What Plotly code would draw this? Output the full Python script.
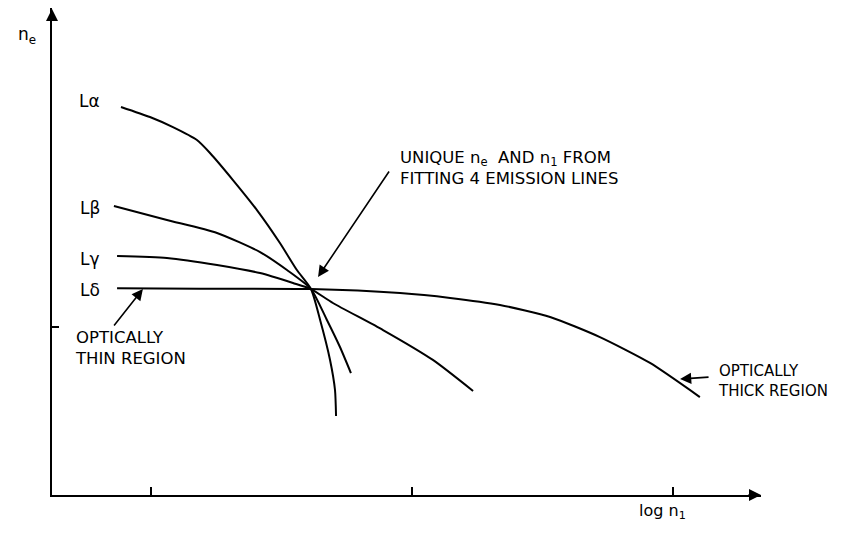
import plotly.graph_objects as go

# schematic: n_e against log n1 (arbitrary units, x ticks at 1, 2, 3 and y tick at 1)
la_x = [0.885, 0.996, 1.084, 1.176, 1.226, 1.314, 1.406, 1.494, 1.559, 1.613, 1.648, 1.686, 1.705, 1.709]
la_y = [2.310, 2.250, 2.190, 2.113, 2.036, 1.875, 1.696, 1.500, 1.339, 1.226, 1.042, 0.804, 0.625, 0.470]

lb_x = [0.858, 1.061, 1.253, 1.418, 1.521, 1.613, 1.674, 1.724, 1.766]
lb_y = [1.720, 1.637, 1.560, 1.446, 1.339, 1.226, 1.042, 0.881, 0.726]

lg_x = [0.870, 1.061, 1.253, 1.418, 1.544, 1.613, 1.697, 1.889, 2.080, 2.234]
lg_y = [1.423, 1.411, 1.369, 1.321, 1.262, 1.226, 1.143, 0.982, 0.804, 0.619]

ld_x = [0.870, 1.188, 1.613, 1.954, 2.146, 2.337, 2.529, 2.720, 2.912, 3.103]
ld_y = [1.230, 1.228, 1.226, 1.202, 1.173, 1.131, 1.060, 0.940, 0.786, 0.583]

line_names = ["Lα", "Lβ", "Lγ", "Lδ"]
label_x = [0.766, 0.766, 0.766, 0.766]
label_y = [2.345, 1.708, 1.405, 1.220]

x_ticks = [1, 2, 3]
y_ticks = [1]
x_range = [0.6207, 3.3372]
y_range = [0, 2.899]

FONT = "DejaVu Sans"

fig = go.Figure()
for xs, ys, nm in [(la_x, la_y, "Lα"), (lb_x, lb_y, "Lβ"),
                   (lg_x, lg_y, "Lγ"), (ld_x, ld_y, "Lδ")]:
    fig.add_trace(go.Scatter(x=xs, y=ys, mode="lines", name=nm,
                             line=dict(color="black", width=2, shape="spline", smoothing=0.6),
                             hoverinfo="skip"))

# curve labels
for nm, lx, ly in zip(line_names, label_x, label_y):
    fig.add_annotation(x=lx, y=ly, text=nm, showarrow=False,
                       font=dict(family=FONT, size=17, color="black"))

# region notes
notes = [
    (0.701, 0.875, "OPTICALLY<br>THIN REGION", 16.5),
    (1.946, 1.949, "UNIQUE n<sub>e</sub>  AND n<sub>1</sub> FROM<br>FITTING 4 EMISSION LINES", 16.5),
    (3.165, 0.676, "OPTICALLY<br>THICK REGION", 15),
]
for nx, ny, txt, fs in notes:
    fig.add_annotation(x=nx, y=ny, text=txt, showarrow=False, xanchor="left",
                       yanchor="middle", align="left",
                       font=dict(family=FONT, size=fs, color="black"))

# pointer arrows (tail -> tip)
pointers = [
    ((0.854, 1.000), (0.969, 1.226)),
    ((1.916, 1.935), (1.640, 1.298)),
    ((3.142, 0.702), (3.027, 0.690)),
]
for (tx, ty), (hx, hy) in pointers:
    fig.add_annotation(x=hx, y=hy, ax=tx, ay=ty, axref="x", ayref="y", text="",
                       showarrow=True, arrowhead=2, arrowsize=1.4, arrowwidth=1.6,
                       arrowcolor="black", standoff=0)

# axis arrow heads
fig.add_annotation(x=1, y=0, xref="paper", yref="paper", ax=-14, ay=0, text="",
                   showarrow=True, arrowhead=2, arrowsize=1.2, arrowwidth=2,
                   arrowcolor="black", standoff=0)
fig.add_annotation(x=0, y=1, xref="paper", yref="paper", ax=0, ay=14, text="",
                   showarrow=True, arrowhead=2, arrowsize=1.2, arrowwidth=2,
                   arrowcolor="black", standoff=0)

# axis titles
fig.add_annotation(x=-0.051, y=2.738, xref="paper", yref="y", text="n<sub>e</sub>",
                   showarrow=False, font=dict(family=FONT, size=17, color="black"))
fig.add_annotation(x=2.958, y=-0.0595, xref="x", yref="paper", text="log n<sub>1</sub>",
                   showarrow=False, font=dict(family=FONT, size=16, color="black"))

fig.update_xaxes(range=x_range, showline=True, linewidth=2, linecolor="black",
                 showgrid=False, zeroline=False, ticks="inside", tickvals=x_ticks,
                 ticklen=8, tickwidth=2, tickcolor="black", showticklabels=False)
fig.update_yaxes(range=y_range, showline=True, linewidth=2, linecolor="black",
                 showgrid=False, zeroline=False, ticks="inside", tickvals=y_ticks,
                 ticklen=7, tickwidth=2, tickcolor="black", showticklabels=False)

# page body has an 8px default margin, so the figure is sized and shifted to fit
fig.update_layout(width=835, height=529, autosize=False, showlegend=False,
                  plot_bgcolor="white", paper_bgcolor="white",
                  margin=dict(l=44, r=82, t=0, b=42))

fig.write_html("out.html")
